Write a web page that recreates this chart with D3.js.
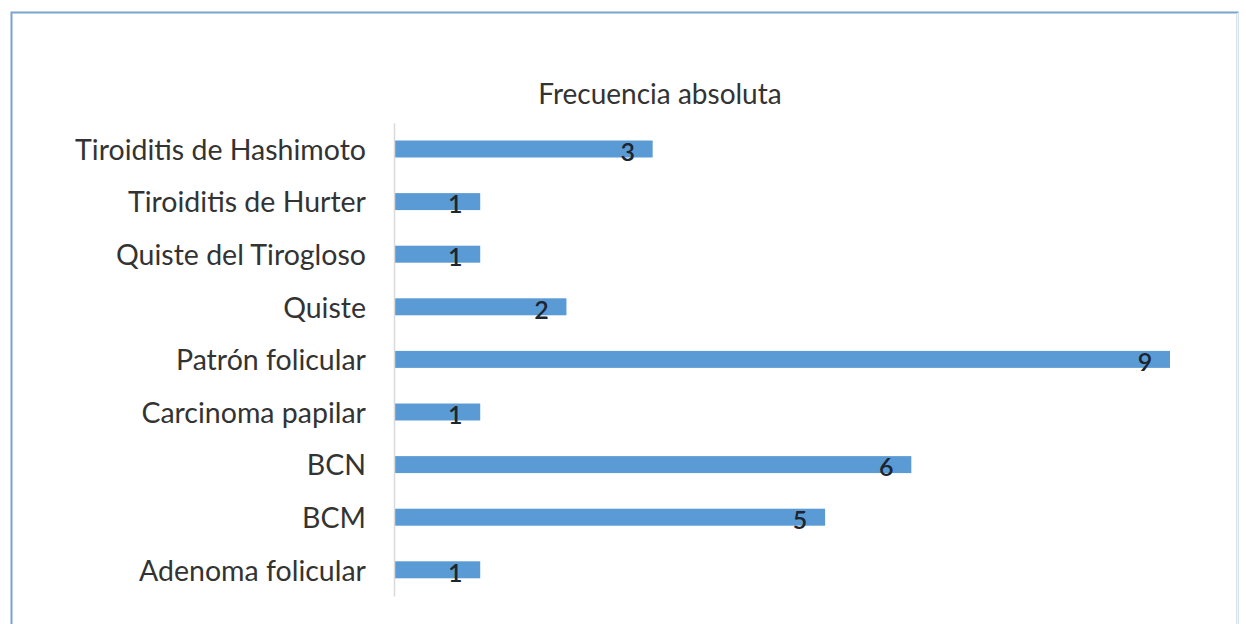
<!DOCTYPE html>
<html><head><meta charset="utf-8">
<script src="https://cdn.jsdelivr.net/npm/d3@7"></script>
<style>html,body{margin:0;padding:0;background:#fff;}svg{display:block;}</style>
</head><body>
<svg id="chart" width="1246" height="624"></svg>
<script>
const categories = ["Tiroiditis de Hashimoto","Tiroiditis de Hurter","Quiste del Tirogloso","Quiste","Patrón folicular","Carcinoma papilar","BCN","BCM","Adenoma folicular"];
const values = [3,1,1,2,9,1,6,5,1];
const title = "Frecuencia absoluta";

const svg = d3.select("#chart");
const font = "Lato, 'Open Sans', sans-serif";

// frame
svg.append("rect").attr("x",11.5).attr("y",12.5).attr("width",1226).attr("height",620)
  .attr("fill","#fff").attr("stroke","#7ba3cc").attr("stroke-width",2);
svg.append("line").attr("x1",1237.5).attr("x2",1237.5).attr("y1",13).attr("y2",624).attr("stroke","#f2f4f6").attr("stroke-width",2);

const x = d3.scaleLinear().domain([0,9]).range([394,1170]);
const y = d3.scaleBand().domain(categories).range([122.7,596.1]).paddingInner(0.677).paddingOuter(0.3385);

svg.append("text").attr("x",660).attr("y",104).attr("text-anchor","middle")
  .attr("font-family",font).attr("font-size",28).attr("fill","#333").text(title);

// bars
svg.selectAll("rect.bar").data(categories).enter().append("rect").attr("class","bar")
  .attr("x",x(0)).attr("y",d=>y(d)).attr("height",y.bandwidth())
  .attr("width",(d,i)=>x(values[i])-x(0)).attr("fill","#5b9bd5");

// y axis
const yAxis = d3.axisLeft(y).tickSize(0).tickPadding(28);
const g = svg.append("g").attr("transform",`translate(${x(0)},0)`).call(yAxis);
g.select(".domain").attr("stroke","#d9d9d9").attr("stroke-width",1.5);
g.selectAll("text").attr("font-family",font).attr("font-size",28.5).attr("fill","#333").attr("dy","0.38em");

// value labels
svg.selectAll("text.val").data(categories).enter().append("text").attr("class","val")
  .attr("x",(d,i)=>x(values[i])-25).attr("y",d=>y(d)+y.bandwidth()/2+3)
  .attr("dy","0.35em").attr("text-anchor","middle")
  .attr("font-family",font).attr("font-size",25).attr("font-weight",600).attr("fill","#1c2530")
  .text((d,i)=>values[i]);
</script>
</body></html>
